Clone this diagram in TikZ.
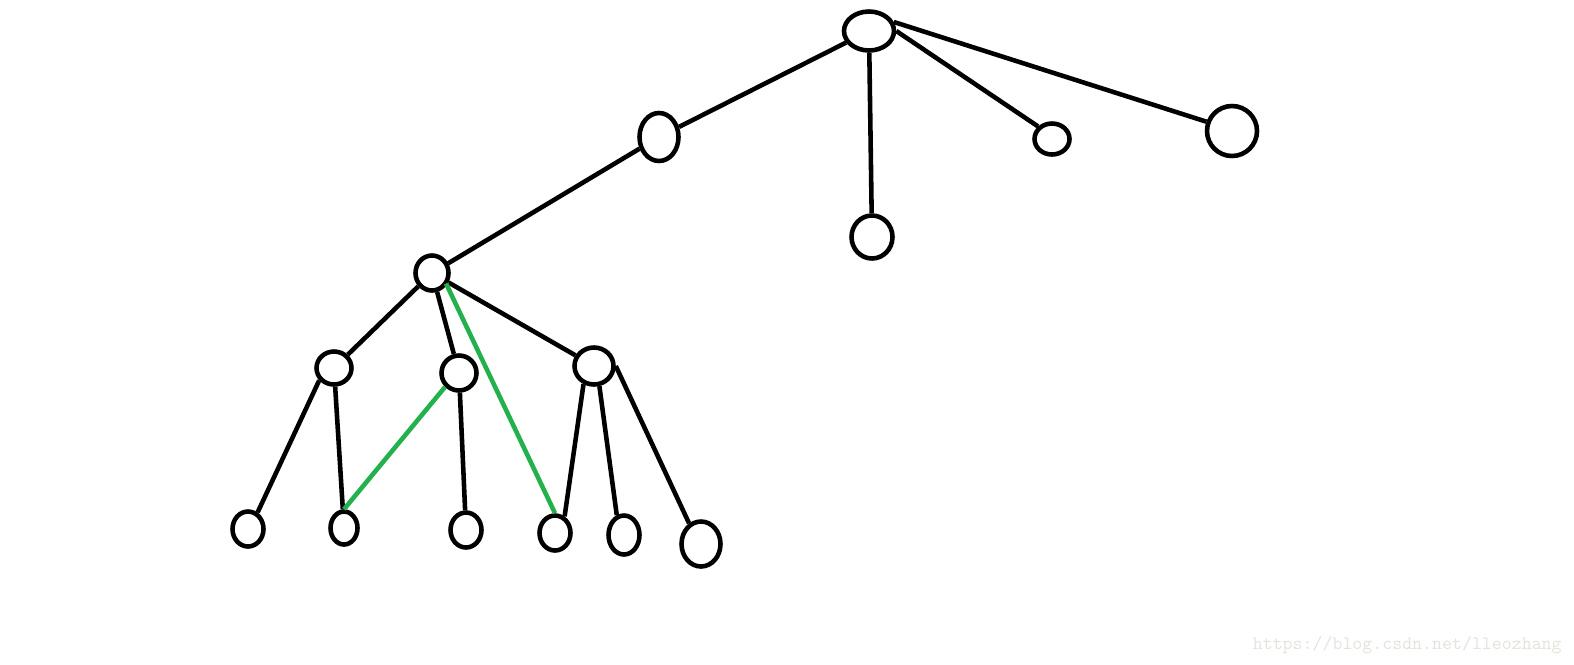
\documentclass[tikz,border=0pt]{standalone}
\usepackage{tikz}
\usetikzlibrary{shapes.geometric}
\tikzstyle{vertex} = [
    ellipse,
    draw=black,
    line width=2.6pt,
    inner sep=0pt
]
\tikzstyle{edge} = [line width=2.6pt, black]
\tikzstyle{greenedge} = [line width=2.6pt, draw={rgb,255:red,34;green,177;blue,76}]
\tikzstyle{watermark} = [
    text={rgb,255:red,228;green,228;blue,222},
    font=\ttfamily\fontsize{10.8}{12}\selectfont,
    inner sep=0pt
]

\begin{document}
\begin{tikzpicture}[x=0.02cm, y=-0.02cm]
\useasboundingbox (0,0) rectangle (1574,664);

\node (root) [vertex, minimum width=1.0cm, minimum height=0.78cm] at (869,31) {};

\node (a) [vertex, minimum width=0.78cm, minimum height=0.96cm] at (659,137) {};
\node (b) [vertex, minimum width=0.82cm, minimum height=0.86cm] at (872,237) {};
\node (c) [vertex, minimum width=0.7cm, minimum height=0.62cm] at (1052,139) {};
\node (d) [vertex, minimum width=1.0cm, minimum height=1.0cm] at (1232,131) {};

\node (e) [vertex, minimum width=0.66cm, minimum height=0.7cm] at (432,273) {};

\node (f) [vertex, minimum width=0.7cm, minimum height=0.66cm] at (334,368) {};
\node (g) [vertex, minimum width=0.7cm, minimum height=0.7cm] at (459,373) {};
\node (h) [vertex, minimum width=0.78cm, minimum height=0.74cm] at (594,366) {};

\node (leaf1) [vertex, minimum width=0.62cm, minimum height=0.7cm] at (248,529) {};
\node (leaf2) [vertex, minimum width=0.54cm, minimum height=0.66cm] at (344,528) {};
\node (leaf3) [vertex, minimum width=0.62cm, minimum height=0.7cm] at (466,530) {};
\node (leaf4) [vertex, minimum width=0.62cm, minimum height=0.7cm] at (555,533) {};
\node (leaf5) [vertex, minimum width=0.62cm, minimum height=0.78cm] at (624,535) {};
\node (leaf6) [vertex, minimum width=0.78cm, minimum height=0.9cm] at (701,544) {};

\draw [edge] (root) -- (a);
\draw [edge] (root) -- (b);
\draw [edge] (root.east) -- (c.north west);
\draw [edge] (root.20) -- (d.160);
\draw [edge] (a) -- (e);
\draw [edge] (e) -- (f);
\draw [edge] (e) -- (g);
\draw [edge] (e) -- (h);
\draw [edge] (f.220) -- (leaf1.60);
\draw [edge] (f) -- (leaf2);
\draw [edge] (g) -- (leaf3);
\draw [edge] (h.240) -- (leaf4.60);
\draw [edge] (h.285) -- (leaf5.110);
\draw [edge] (h.east) -- (leaf6.120);

\draw [greenedge] ([shift={(8pt,-6pt)}]e.center) -- (leaf4.north);
\draw [greenedge] (g.south west) -- (leaf2.north);

\node (mark) [watermark, anchor=east] at (1562,645) {https://blog.csdn.net/lleozhang};

\end{tikzpicture}
\end{document}
